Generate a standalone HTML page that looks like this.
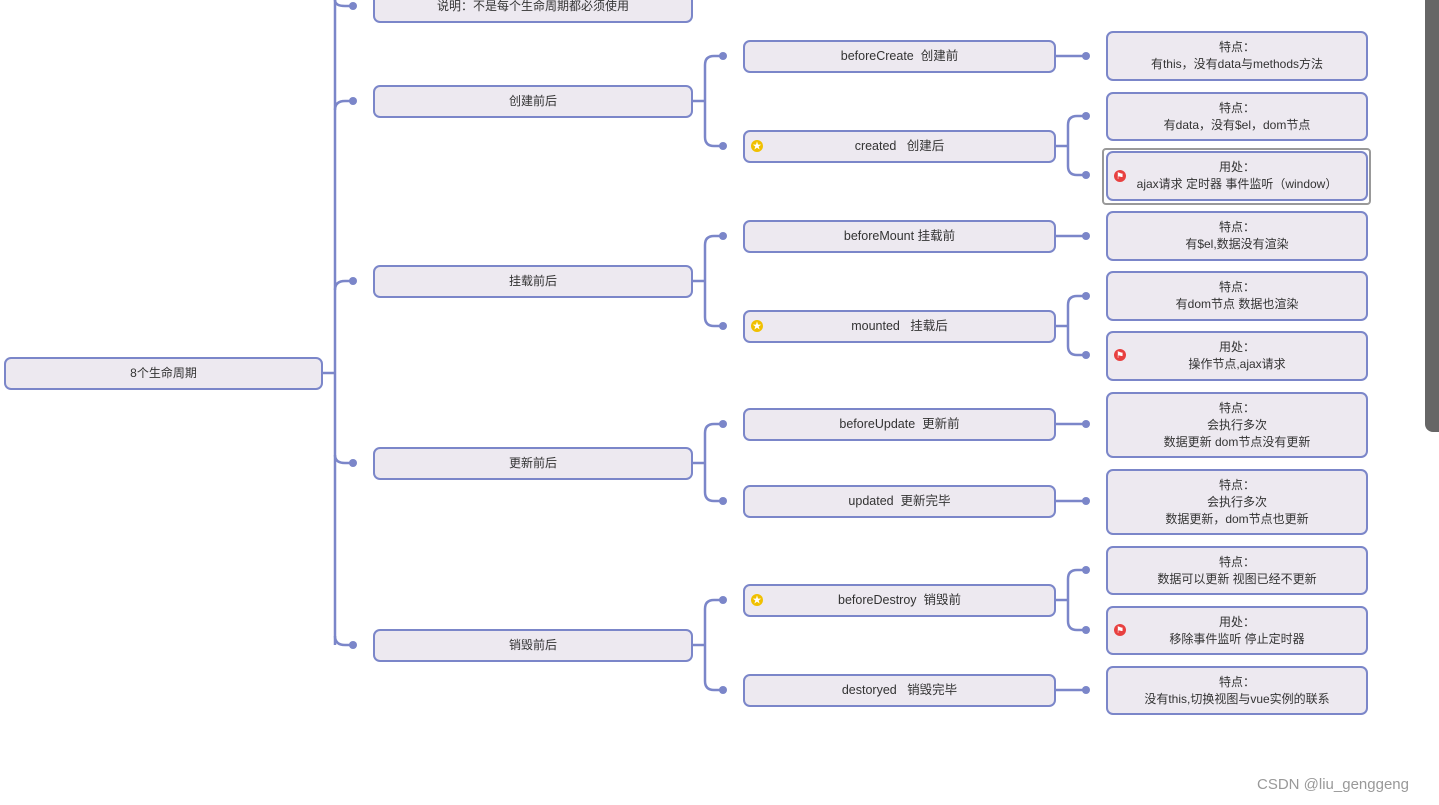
<!DOCTYPE html>
<html><head><meta charset="utf-8"><style>
body{margin:0;width:1439px;height:805px;background:#fff;position:relative;overflow:hidden;font-family:"Liberation Sans","Noto Sans CJK SC",sans-serif;color:#333}
.b{position:absolute;box-sizing:border-box;background:#ede9f0;border:2.5px solid #7b86c9;border-radius:7px;font-size:12px;display:flex;align-items:center;justify-content:center;text-align:center;line-height:17px}
.l2{font-size:12.5px}
.ic{position:absolute;width:12px;height:12px;border-radius:50%;font-size:9px;line-height:12px;text-align:center;color:#fff}
.star{background:#f0c000}
.flag{background:#e84040}
svg{position:absolute;left:0;top:0}
</style></head><body>
<svg width="1439" height="805">
<g fill="none" stroke="#7b86c9" stroke-width="2.5">
<path d="M322 373 H335"/>
<path d="M335 -5 V645"/>
<path d="M335 0 Q335 6 345 6 H353"/>
<path d="M335 110 Q335 101 345 101 H353"/>
<path d="M335 290 Q335 281 345 281 H353"/>
<path d="M335 455 Q335 463 345 463 H353"/>
<path d="M335 636 Q335 645 345 645 H353"/>
<path d="M692 101 H705"/><path d="M723 56 H714 Q705 56 705 65 V137 Q705 146 714 146 H723"/>
<path d="M692 281 H705"/><path d="M723 236 H714 Q705 236 705 245 V317 Q705 326 714 326 H723"/>
<path d="M692 463 H705"/><path d="M723 424 H714 Q705 424 705 433 V492 Q705 501 714 501 H723"/>
<path d="M692 645 H705"/><path d="M723 600 H714 Q705 600 705 609 V681 Q705 690 714 690 H723"/>
<path d="M1055 56 H1086"/><path d="M1055 236 H1086"/><path d="M1055 424 H1086"/><path d="M1055 501 H1086"/><path d="M1055 690 H1086"/>
<path d="M1055 146 H1068"/><path d="M1086 116 H1077 Q1068 116 1068 125 V166 Q1068 175 1077 175 H1086"/>
<path d="M1055 326 H1068"/><path d="M1086 296 H1077 Q1068 296 1068 305 V346 Q1068 355 1077 355 H1086"/>
<path d="M1055 600 H1068"/><path d="M1086 570 H1077 Q1068 570 1068 579 V621 Q1068 630 1077 630 H1086"/>
</g>
<g fill="#7b86c9">
<circle cx="353" cy="6" r="4"/><circle cx="353" cy="101" r="4"/><circle cx="353" cy="281" r="4"/><circle cx="353" cy="463" r="4"/><circle cx="353" cy="645" r="4"/>
<circle cx="723" cy="56" r="4"/><circle cx="723" cy="146" r="4"/><circle cx="723" cy="236" r="4"/><circle cx="723" cy="326" r="4"/><circle cx="723" cy="424" r="4"/><circle cx="723" cy="501" r="4"/><circle cx="723" cy="600" r="4"/><circle cx="723" cy="690" r="4"/>
<circle cx="1086" cy="56" r="4"/><circle cx="1086" cy="116" r="4"/><circle cx="1086" cy="175" r="4"/><circle cx="1086" cy="236" r="4"/><circle cx="1086" cy="296" r="4"/><circle cx="1086" cy="355" r="4"/><circle cx="1086" cy="424" r="4"/><circle cx="1086" cy="501" r="4"/><circle cx="1086" cy="570" r="4"/><circle cx="1086" cy="630" r="4"/><circle cx="1086" cy="690" r="4"/>
</g>
<rect x="1103" y="149" width="267" height="55" rx="3" fill="none" stroke="#999" stroke-width="2"/>
</svg>

<div class="b" style="left:4px;top:357px;width:319px;height:33px">8个生命周期</div>
<div class="b" style="left:373px;top:-10px;width:320px;height:33px;padding-bottom:0">说明：不是每个生命周期都必须使用</div>
<div class="b" style="left:373px;top:85px;width:320px;height:33px">创建前后</div>
<div class="b" style="left:373px;top:265px;width:320px;height:33px">挂载前后</div>
<div class="b" style="left:373px;top:447px;width:320px;height:33px">更新前后</div>
<div class="b" style="left:373px;top:629px;width:320px;height:33px">销毁前后</div>

<div class="b l2" style="left:743px;top:40px;width:313px;height:33px">beforeCreate&nbsp; 创建前</div>
<div class="b l2" style="left:743px;top:130px;width:313px;height:33px">created&nbsp;&nbsp; 创建后</div>
<div class="b l2" style="left:743px;top:220px;width:313px;height:33px">beforeMount 挂载前</div>
<div class="b l2" style="left:743px;top:310px;width:313px;height:33px">mounted&nbsp;&nbsp; 挂载后</div>
<div class="b l2" style="left:743px;top:408px;width:313px;height:33px">beforeUpdate&nbsp; 更新前</div>
<div class="b l2" style="left:743px;top:485px;width:313px;height:33px">updated&nbsp; 更新完毕</div>
<div class="b l2" style="left:743px;top:584px;width:313px;height:33px">beforeDestroy&nbsp; 销毁前</div>
<div class="b l2" style="left:743px;top:674px;width:313px;height:33px">destoryed&nbsp;&nbsp; 销毁完毕</div>
<div class="ic star" style="left:751px;top:140px">★</div>
<div class="ic star" style="left:751px;top:320px">★</div>
<div class="ic star" style="left:751px;top:594px">★</div>

<div class="b" style="left:1106px;top:31px;width:262px;height:50px">特点：<br>有this，没有data与methods方法</div>
<div class="b" style="left:1106px;top:92px;width:262px;height:49px">特点：<br>有data，没有$el，dom节点</div>
<div class="b" style="left:1106px;top:151px;width:262px;height:50px">用处：<br>ajax请求 定时器 事件监听（window）</div>
<div class="b" style="left:1106px;top:211px;width:262px;height:50px">特点：<br>有$el,数据没有渲染</div>
<div class="b" style="left:1106px;top:271px;width:262px;height:50px">特点：<br>有dom节点 数据也渲染</div>
<div class="b" style="left:1106px;top:331px;width:262px;height:50px">用处：<br>操作节点,ajax请求</div>
<div class="b" style="left:1106px;top:392px;width:262px;height:66px">特点：<br>会执行多次<br>数据更新 dom节点没有更新</div>
<div class="b" style="left:1106px;top:469px;width:262px;height:66px">特点：<br>会执行多次<br>数据更新，dom节点也更新</div>
<div class="b" style="left:1106px;top:546px;width:262px;height:49px">特点：<br>数据可以更新 视图已经不更新</div>
<div class="b" style="left:1106px;top:606px;width:262px;height:49px">用处：<br>移除事件监听 停止定时器</div>
<div class="b" style="left:1106px;top:666px;width:262px;height:49px">特点：<br>没有this,切换视图与vue实例的联系</div>
<div class="ic flag" style="left:1114px;top:170px">⚑</div>
<div class="ic flag" style="left:1114px;top:349px">⚑</div>
<div class="ic flag" style="left:1114px;top:624px">⚑</div>

<div style="position:absolute;left:1425px;top:0;width:14px;height:432px;background:#666;border-radius:0 0 0 8px"></div>
<div style="position:absolute;left:1257px;top:776px;font-size:15px;color:#999">CSDN @liu_genggeng</div>
</body></html>
